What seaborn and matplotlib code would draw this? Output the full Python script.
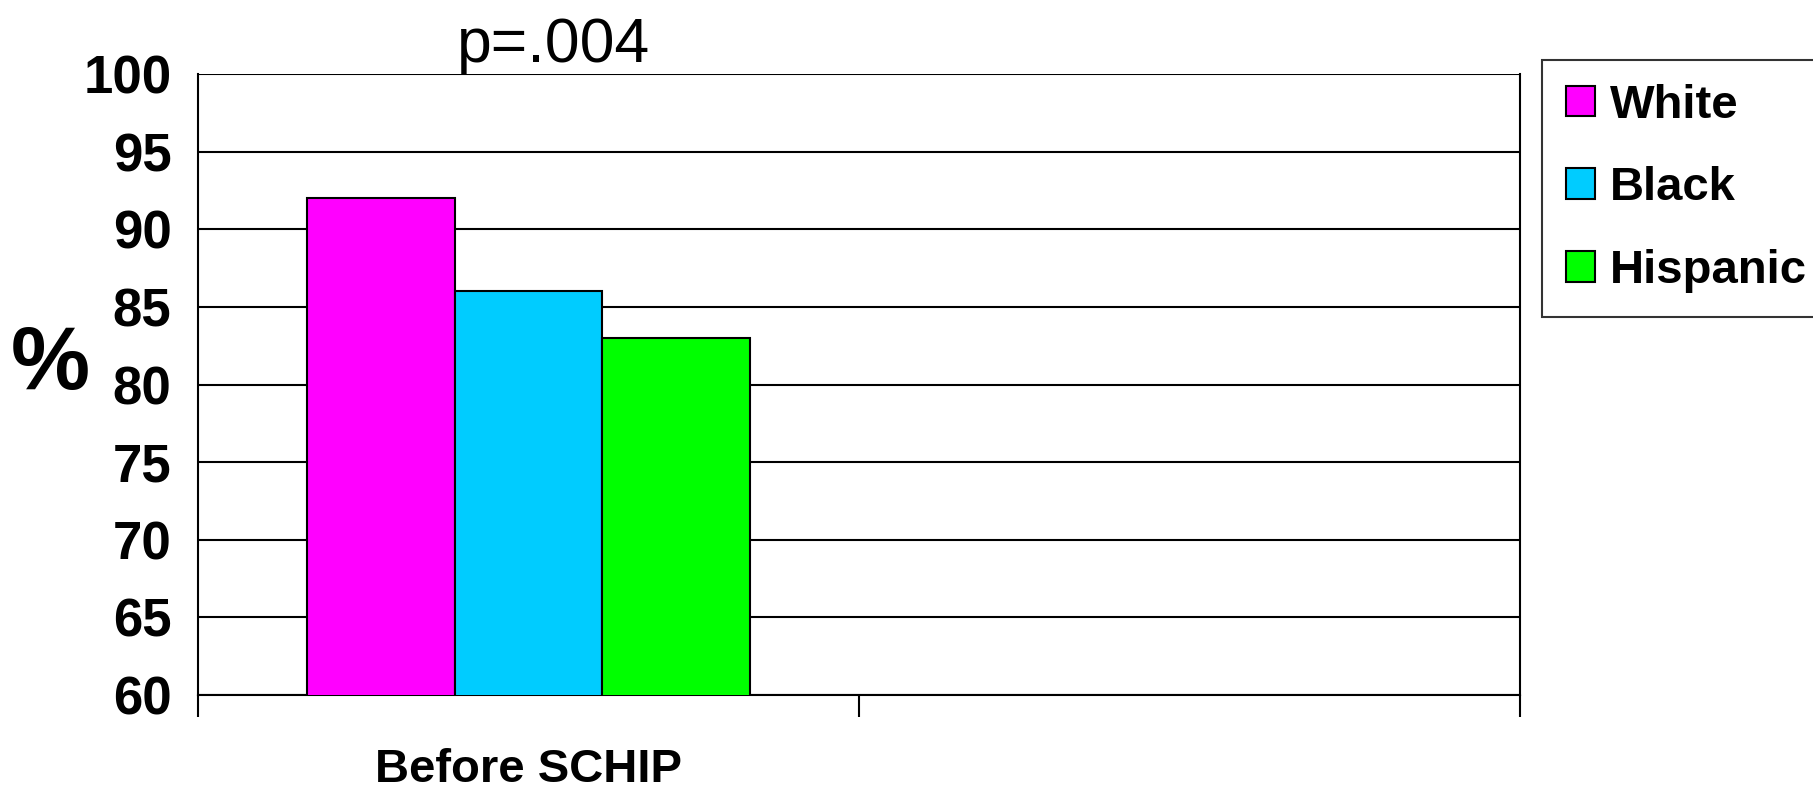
import matplotlib
matplotlib.use("Agg")
import matplotlib.pyplot as plt
import seaborn as sns
import pandas as pd
from matplotlib.ticker import FixedLocator

# Share of children (%) by race/ethnicity
periods = ["Before SCHIP", ""]
groups = ["White", "Black", "Hispanic"]
values = [92, 86, 83]
colors = ["#FF00FF", "#00CCFF", "#00FF00"]
yticks = [60, 65, 70, 75, 80, 85, 90, 95, 100]

sns.set_theme(style="white")
plt.rcParams["font.family"] = ["Liberation Sans", "DejaVu Sans"]
plt.rcParams["text.color"] = "black"
plt.rcParams["xtick.color"] = "black"
plt.rcParams["ytick.color"] = "black"
plt.rcParams["axes.labelcolor"] = "black"

df = pd.DataFrame({"period": [periods[0]] * len(groups), "group": groups, "value": values})

fig = plt.figure(figsize=(18.13, 7.91), dpi=100)
ax = fig.add_axes([0.1092, 0.1214, 0.8384 - 0.1092, 0.9064 - 0.1214])

sns.barplot(data=df, x="period", y="value", hue="group", order=periods,
            hue_order=groups, palette=colors, saturation=1, width=0.67, gap=0,
            edgecolor="black", linewidth=1.5, ax=ax, zorder=3)

ax.set_ylim(60, 100)
ax.set_xlim(-0.5, 1.5)
ax.yaxis.set_major_locator(FixedLocator(yticks))
ax.grid(axis="y", color="black", linewidth=1.5, zorder=0)
ax.grid(axis="x", visible=False)
for side in ["left", "bottom", "right"]:
    ax.spines[side].set_visible(True)
    ax.spines[side].set_color("black")
    ax.spines[side].set_linewidth(1.5)
ax.spines["top"].set_visible(False)

ax.tick_params(axis="y", direction="out", length=16, width=1.5, color="black",
               labelsize=38, pad=3, labelcolor="black")
for lab in ax.get_yticklabels():
    lab.set_fontweight("bold")

# category labels on major ticks, boundary tick marks on minor ticks
ax.set_xticks([0, 1])
ax.set_xticklabels(periods, fontsize=34, fontweight="bold", color="black")
ax.tick_params(axis="x", which="major", length=0, pad=38)
ax.xaxis.set_minor_locator(FixedLocator([-0.5, 0.5, 1.5]))
ax.tick_params(axis="x", which="minor", direction="out", length=16, width=1.5,
               color="black", bottom=True)

ax.set_xlabel("")
ax.set_ylabel("")

fig.text(50 / 1813, 1 - 366 / 791, "%", fontsize=64, fontweight="bold",
         ha="center", va="center", color="black")
fig.text(554 / 1813, 1 - 62 / 791, "p=.004", fontsize=45, ha="center",
         va="baseline", color="black")

handles, labels = ax.get_legend_handles_labels()
if ax.legend_:
    ax.legend_.remove()
leg = fig.legend(handles, labels, loc="upper left",
                 bbox_to_anchor=(1542 / 1813, 1 - 60 / 791),
                 frameon=True, fancybox=False, edgecolor="black",
                 prop={"size": 34, "weight": "bold"}, handlelength=0.62,
                 handleheight=0.62, handletextpad=0.32, labelspacing=0.82,
                 borderpad=0.5, borderaxespad=0)
leg.get_frame().set_linewidth(1.5)
for t in leg.get_texts():
    t.set_color("black")

fig.savefig("out.png", dpi=100, facecolor="white")
